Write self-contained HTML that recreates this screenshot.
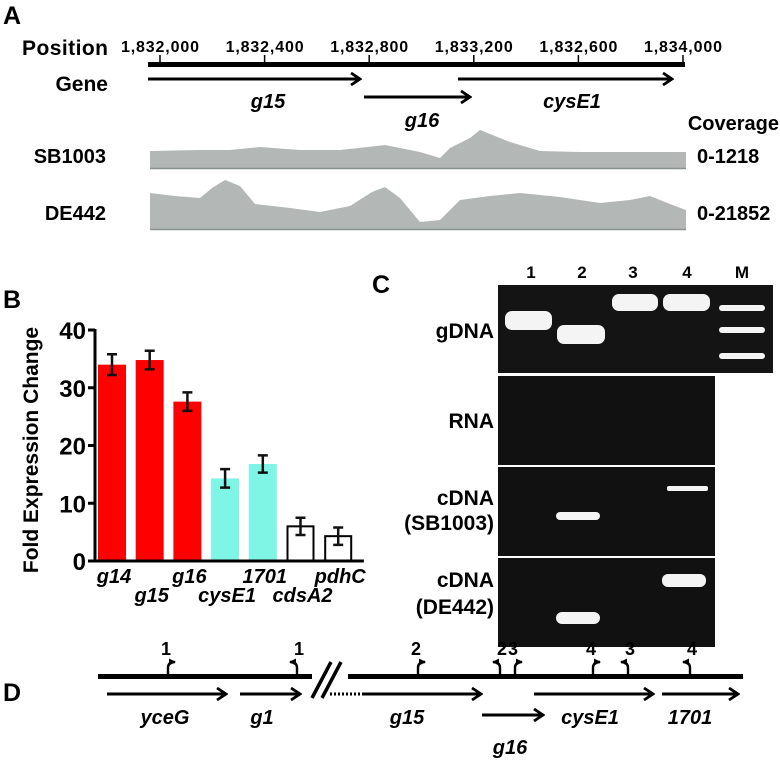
<!DOCTYPE html>
<html><head><meta charset="utf-8"><style>
body{margin:0;background:#fff;}
svg{display:block;font-family:"Liberation Sans",Arial,sans-serif;font-weight:bold;}
</style></head><body>
<svg width="780" height="776" viewBox="0 0 780 776">
<defs>
<marker id="ah" markerWidth="12" markerHeight="14" refX="10" refY="7" orient="auto" markerUnits="userSpaceOnUse"><path d="M1,1 L10,7 L1,13" fill="none" stroke="#000" stroke-width="2.8"/></marker>
<marker id="sa" markerWidth="7" markerHeight="7" refX="6" refY="3.5" orient="auto" markerUnits="userSpaceOnUse"><path d="M0,0 L7,3.5 L0,7 Z" fill="#000"/></marker>
</defs>
<!-- Panel A -->
<g>
<text x="3" y="24" font-size="25">A</text>
<text x="22" y="55" font-size="21" textLength="86">Position</text>
<g id="ticks" font-size="16" text-anchor="middle"></g>
<rect x="148" y="62" width="537" height="5" fill="#000"/>
<text x="108" y="91" font-size="21" text-anchor="end">Gene</text>
<line x1="148" y1="79" x2="360" y2="79" stroke="#000" stroke-width="3" marker-end="url(#ah)"/>
<line x1="364" y1="97" x2="470" y2="97" stroke="#000" stroke-width="3" marker-end="url(#ah)"/>
<line x1="458" y1="79" x2="672" y2="79" stroke="#000" stroke-width="3" marker-end="url(#ah)"/>
<text x="268" y="108" font-size="20" font-style="italic" text-anchor="middle">g15</text>
<text x="422" y="127" font-size="20" font-style="italic" text-anchor="middle">g16</text>
<text x="572" y="108" font-size="20" font-style="italic" text-anchor="middle">cysE1</text>
<text x="779" y="130" font-size="20" text-anchor="end">Coverage</text>
<text x="106" y="163" font-size="20" text-anchor="end">SB1003</text>
<text x="106" y="220" font-size="20" text-anchor="end">DE442</text>
<text x="697" y="163" font-size="20">0-1218</text>
<text x="697" y="220" font-size="20">0-21852</text>
<polygon fill="#b3b8b6" points="150,168 150,151 200,150 230,150 260,147 300,150 340,150 385,145 420,152 440,158 450,148 470,138 480,130 490,134 510,142 540,151 580,152 620,152 686,152 686,168"/>
<line x1="150" y1="168.5" x2="686" y2="168.5" stroke="#8a9090" stroke-width="1.5"/>
<polygon fill="#b3b8b6" points="150,229 150,193 175,196 200,198 212,188 225,180 240,186 255,204 290,208 320,212 350,206 372,192 385,187 400,198 420,222 440,220 460,200 490,196 520,193 560,197 600,203 630,200 650,196 670,204 686,210 686,229"/>
<line x1="150" y1="229.5" x2="686" y2="229.5" stroke="#8a9090" stroke-width="1.5"/>
</g>
<!-- Panel B -->
<g>
<text x="3" y="308" font-size="25">B</text>
<text transform="translate(38,450) rotate(-90)" font-size="21" text-anchor="middle">Fold Expression Change</text>
<g id="chartB"></g>
</g>
<!-- Panel C -->
<g>
<text x="372" y="293" font-size="25">C</text>
<g font-size="17" text-anchor="middle">
<text x="531" y="278">1</text>
<text x="582" y="278">2</text>
<text x="633" y="278">3</text>
<text x="687" y="278">4</text>
<text x="742" y="278">M</text>
</g>
<g font-size="21" text-anchor="end">
<text x="494" y="338">gDNA</text>
<text x="494" y="428">RNA</text>
<text x="494" y="505">cDNA</text>
<text x="494" y="530">(SB1003)</text>
<text x="494" y="587">cDNA</text>
<text x="494" y="614">(DE442)</text>
</g>
<rect x="498" y="285" width="275" height="88" fill="#141414"/>
<rect x="498" y="376" width="217" height="89" fill="#111"/>
<rect x="498" y="467" width="217" height="89" fill="#111"/>
<rect x="498" y="558" width="217" height="89" fill="#111"/>
<g fill="#f4f4f4">
<rect x="505" y="311" width="47" height="19" rx="7"/>
<rect x="557" y="325" width="48" height="19" rx="7"/>
<rect x="612" y="294" width="46" height="17" rx="7"/>
<rect x="663" y="294" width="47" height="17" rx="7"/>
<rect x="719" y="305" width="46" height="6" rx="3"/>
<rect x="719" y="327" width="46" height="6" rx="3"/>
<rect x="719" y="353" width="46" height="6" rx="3"/>
<rect x="556" y="512" width="44" height="8" rx="4"/>
<rect x="667" y="486" width="41" height="5" rx="2"/>
<rect x="662" y="574" width="44" height="13" rx="6"/>
<rect x="556" y="612" width="44" height="12" rx="6"/>
</g>
</g>
<!-- Panel D -->
<g>
<text x="3" y="701" font-size="25">D</text>
<rect x="98" y="674" width="645" height="5" fill="#000"/>
<rect x="312" y="665" width="36" height="22" fill="#fff"/>
<line x1="312" y1="698" x2="331" y2="662" stroke="#000" stroke-width="3.5"/>
<line x1="322" y1="698" x2="341" y2="662" stroke="#000" stroke-width="3.5"/>
<g stroke="#000" stroke-width="3">
<line x1="107" y1="694" x2="226" y2="694" marker-end="url(#ah)"/>
<line x1="240" y1="694" x2="300" y2="694" marker-end="url(#ah)"/>
<line x1="330" y1="694" x2="362" y2="694" stroke-dasharray="2,2"/>
<line x1="362" y1="694" x2="481" y2="694" marker-end="url(#ah)"/>
<line x1="482" y1="715" x2="543" y2="715" marker-end="url(#ah)"/>
<line x1="534" y1="694" x2="653" y2="694" marker-end="url(#ah)"/>
<line x1="662" y1="694" x2="738" y2="694" marker-end="url(#ah)"/>
</g>
<g font-size="20" font-style="italic" text-anchor="middle">
<text x="165" y="724">yceG</text>
<text x="262" y="724">g1</text>
<text x="407" y="724">g15</text>
<text x="510" y="754">g16</text>
<text x="590" y="724">cysE1</text>
<text x="690" y="724">1701</text>
</g>
<g id="primers" font-size="18" text-anchor="middle"></g>
</g>
</svg>
<script>
var NS="http://www.w3.org/2000/svg";
function mk(t,a,p){var e=document.createElementNS(NS,t);for(var k in a)e.setAttribute(k,a[k]);p.appendChild(e);return e;}
// Panel A ticks
var posLabels=["1,832,000","1,832,400","1,832,800","1,833,200","1,832,600","1,834,000"];
var tg=document.getElementById("ticks");
posLabels.forEach(function(l,i){var x=160+i*104.6;
var ln=mk("line",{x1:x,y1:55,x2:x,y2:64,stroke:"#000","stroke-width":1.5},tg);


var t=mk("text",{x:x,y:52,textLength:78},tg);t.textContent=l;

});
// Panel B chart
var genes=["g14","g15","g16","cysE1","1701","cdsA2","pdhC"];
var values=[34.0,34.8,27.6,14.3,16.8,6.0,4.3];
var errors=[1.8,1.6,1.6,1.6,1.5,1.5,1.5];
var colors=["#ff0000","#ff0000","#ff0000","#7ff5e6","#7ff5e6","#fff","#fff"];
var yTicks=[0,10,20,30,40];
var g=document.getElementById("chartB");
var x0=95,y0=561,ppu=(561-330)/40,bw=28,step=37.7;
function Y(v){return y0-v*ppu;}
yTicks.forEach(function(v){
var tl=mk("line",{x1:x0-7,y1:Y(v),x2:x0,y2:Y(v),stroke:"#000","stroke-width":3},g);


var t=mk("text",{x:x0-9,y:Y(v)+9,"font-size":24,"text-anchor":"end"},g);t.textContent=v;

});
genes.forEach(function(n,i){var x=x0+3+i*step;var wh=colors[i]=="#fff";
var r=mk("rect",{x:x+(wh?1:0),y:Y(values[i]),width:bw-(wh?2:0),height:y0-Y(values[i]),fill:colors[i],stroke:wh?"#000":"none","stroke-width":2},g);


var cx=x+bw/2,hi=Y(values[i]+errors[i]),lo=Y(values[i]-errors[i]);
var eb=mk("path",{d:"M"+cx+","+hi+"V"+lo+"M"+(cx-5)+","+hi+"H"+(cx+5)+"M"+(cx-5)+","+lo+"H"+(cx+5),stroke:"#111","stroke-width":2.5,fill:"none"},g);


var t=mk("text",{x:cx+2,y:i%2?602:583,"font-size":20,"font-style":"italic","text-anchor":"middle"},g);t.textContent=n;

});
var ax=mk("path",{d:"M"+x0+","+(Y(40)-1)+"V"+y0+"H"+(x0+7*step+5),stroke:"#000","stroke-width":3,fill:"none"},g);


// Panel D primers
var primerX=[168,297,418,500,515,593,628,690];
var primerDir=[1,-1,1,-1,1,1,-1,-1];
var primerNum=["1","1","2","2","3","4","3","4"];
var pg=document.getElementById("primers");
primerX.forEach(function(x,i){var d=primerDir[i];
var p=mk("path",{d:"M"+x+",674 V668 Q"+x+",662 "+(x+7*d)+",662",stroke:"#000","stroke-width":2.4,fill:"none","marker-end":"url(#sa)"},pg);


var t=mk("text",{x:x-2*d,y:655},pg);t.textContent=primerNum[i];

});
</script>
</body></html>
